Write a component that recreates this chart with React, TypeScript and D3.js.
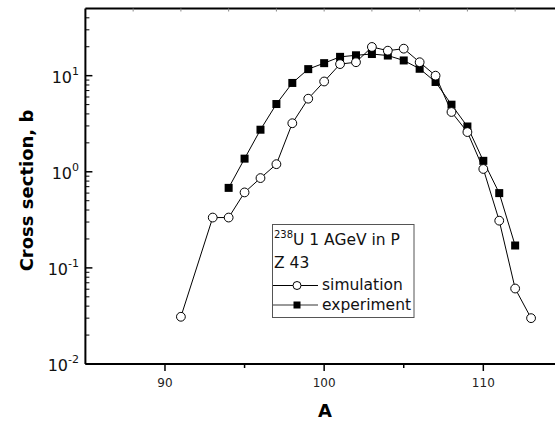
import React from "react";
import * as d3 from "d3";

const simA = [91, 93, 94, 95, 96, 97, 98, 99, 100, 101, 102, 103, 104, 105, 106, 107, 108, 109, 110, 111, 112, 113];
const simV = [0.031, 0.334, 0.334, 0.61, 0.86, 1.2, 3.2, 5.76, 8.7, 13.2, 13.8, 19.9, 18.2, 19.1, 13.8, 10.0, 4.19, 2.59, 1.07, 0.31, 0.061, 0.030];
const expA = [94, 95, 96, 97, 98, 99, 100, 101, 102, 103, 104, 105, 106, 107, 108, 109, 110, 111, 112];
const expV = [0.68, 1.37, 2.74, 5.07, 8.4, 11.7, 13.5, 15.7, 16.3, 16.8, 16.2, 14.4, 11.8, 8.6, 4.99, 2.96, 1.3, 0.6, 0.171];
const xMajor = [90, 100, 110];
const xMinor = [95, 105];
const xTop = [88, 91, 94, 97, 100, 103, 106, 109, 112];
const yDecades = [0.01, 0.1, 1, 10];
const yExp = ["-2", "-1", "0", "1"];
const legendTitle = "U 1 AGeV in P";
const legendIso = "238";
const legendZ = "Z 43";
const seriesNames = ["simulation", "experiment"];

const FONT = "DejaVu Sans, sans-serif";

export default function App() {
  const W = 555, H = 423;
  const x = d3.scaleLinear().domain([85, 115]).range([85.4, 562.9]);
  const y = d3.scaleLog().domain([0.01, 50]).range([364, 8.5]);
  const left = x(85), right = x(115), top = y(50), bottom = y(0.01);

  const line = d3.line<[number, number]>().x(d => x(d[0])).y(d => y(d[1]));
  const simPts: [number, number][] = simA.map((a, i) => [a, simV[i]]);
  const expPts: [number, number][] = expA.map((a, i) => [a, expV[i]]);

  const minorY: number[] = [];
  for (const d of [0.01, 0.1, 1, 10]) {
    for (let k = 2; k <= 9; k++) {
      const v = d * k;
      if (v < 50) minorY.push(v);
    }
  }

  return (
    <svg width={W} height={H} style={{ position: "absolute", left: 0, top: 0, background: "#fff" }} fontFamily={FONT}>
      <rect x={0} y={0} width={W} height={H} fill="#fff" />
      {/* data lines */}
      <path d={line(expPts) || ""} fill="none" stroke="#000" strokeWidth={1} />
      <path d={line(simPts) || ""} fill="none" stroke="#000" strokeWidth={1} />
      {expPts.map((p, i) => (
        <rect key={"e" + i} x={x(p[0]) - 4} y={y(p[1]) - 4} width={8} height={8} fill="#000" />
      ))}
      {simPts.map((p, i) => (
        <circle key={"s" + i} cx={x(p[0])} cy={y(p[1])} r={4.4} fill="#fff" stroke="#000" strokeWidth={1} />
      ))}

      {/* frame */}
      <line x1={left} x2={right} y1={top} y2={top} stroke="#000" strokeWidth={2} />
      <line x1={left} x2={right} y1={bottom} y2={bottom} stroke="#000" strokeWidth={2} />
      <line x1={left} x2={left} y1={top} y2={bottom} stroke="#000" strokeWidth={2} />
      <line x1={right} x2={right} y1={top} y2={bottom} stroke="#000" strokeWidth={2} />

      {/* top ticks */}
      {xTop.map(v => (
        <line key={"t" + v} x1={x(v)} x2={x(v)} y1={top} y2={top + 3} stroke="#888" strokeWidth={1} />
      ))}

      {/* bottom ticks */}
      {xMajor.map(v => (
        <g key={"xm" + v}>
          <line x1={x(v)} x2={x(v)} y1={bottom} y2={bottom + 7} stroke="#000" strokeWidth={1.5} />
          <text x={x(v)} y={387} fontSize={12} textAnchor="middle" fill="#222">{v}</text>
        </g>
      ))}
      {xMinor.map(v => (
        <line key={"xn" + v} x1={x(v)} x2={x(v)} y1={bottom} y2={bottom + 4} stroke="#000" strokeWidth={1.5} />
      ))}

      {/* left ticks */}
      {yDecades.map((v, i) => (
        <g key={"yd" + v}>
          <line x1={left} x2={left + 7} y1={y(v)} y2={y(v)} stroke="#000" strokeWidth={1.5} />
          <text x={79} y={y(v) + 7} fontSize={16} textAnchor="end" fill="#111">
            10<tspan fontSize={11} dy={-8}>{yExp[i]}</tspan>
          </text>
        </g>
      ))}
      {minorY.map(v => (
        <line key={"yn" + v} x1={left} x2={left + 4} y1={y(v)} y2={y(v)} stroke="#000" strokeWidth={1} />
      ))}

      {/* axis titles */}
      <text x={325} y={417} fontSize={18} fontWeight="bold" textAnchor="middle">A</text>
      <text transform={`translate(33,190.5) rotate(-90)`} fontSize={18} fontWeight="bold" textAnchor="middle">Cross section, b</text>

      {/* legend */}
      <rect x={272.5} y={224.5} width={141.5} height={93} fill="#fff" stroke="#555" strokeWidth={1} />
      <text x={274} y={238} fontSize={10} fill="#111">{legendIso}</text>
      <text x={293} y={245} fontSize={15.5} fill="#111">{legendTitle}</text>
      <text x={274} y={268} fontSize={15.5} fill="#111">{legendZ}</text>
      <line x1={273} x2={318} y1={285.5} y2={285.5} stroke="#000" strokeWidth={1} />
      <circle cx={297} cy={285.5} r={4} fill="#fff" stroke="#000" strokeWidth={1} />
      <text x={322} y={290} fontSize={15.5} fill="#111">{seriesNames[0]}</text>
      <line x1={273} x2={318} y1={305} y2={305} stroke="#777" strokeWidth={1.5} />
      <rect x={293.5} y={301.5} width={7} height={7} fill="#000" />
      <text x={322} y={310} fontSize={15.5} fill="#111">{seriesNames[1]}</text>
    </svg>
  );
}
